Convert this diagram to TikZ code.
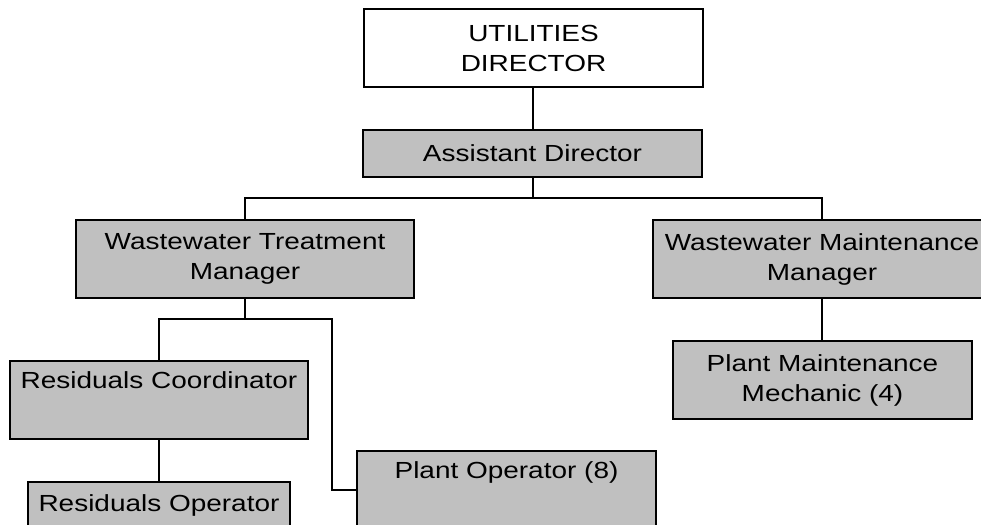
\documentclass[tikz,border=0pt]{standalone}
\usepackage{fontspec}
\setmainfont{Liberation Sans}[FakeStretch=1.2]
\definecolor{boxgray}{RGB}{192,192,192}
\tikzset{
  orgbox/.style={draw=black, line width=1.5pt, fill=boxgray, inner sep=0pt,
    align=center, font=\fontsize{23.3}{30}\selectfont},
  topbox/.style={orgbox, fill=white},
  link/.style={draw=black, line width=1.5pt}
}
\begin{document}
\begin{tikzpicture}[x=1pt,y=-1pt]
\useasboundingbox (0,0) rectangle (981,524);
\fill[white] (0,0) rectangle (981,524);
\clip (0,0) rectangle (981,524);
\node[topbox, minimum width=339, minimum height=78] (UD) at (533.5,48) {UTILITIES\\DIRECTOR};
\node[orgbox, minimum width=339, minimum height=47] (AD) at (532.5,153.5) {Assistant Director};
\node[orgbox, minimum width=338, minimum height=78] (WTM) at (245,259) {Wastewater Treatment\\Manager};
\node[orgbox, minimum width=338, minimum height=78] (WMM) at (822,259) {Wastewater Maintenance\\Manager};
\node[orgbox, minimum width=298, minimum height=78] (RC) at (159,400) {Residuals Coordinator\\ \strut};
\node[orgbox, minimum width=299, minimum height=78] (PMM) at (822.5,380) {Plant Maintenance\\Mechanic (4)};
\node[orgbox, minimum width=262, minimum height=47] (RO) at (159,505.5) {Residuals Operator};
\node[orgbox, minimum width=299, minimum height=78] (PO) at (506.5,490) {Plant Operator (8)\\ \strut};
\coordinate (j1) at (533,198);
\coordinate (j3) at (332,319);
\draw[link] (UD.south -| j1) -- (AD.north -| j1);
\draw[link] (AD.south -| j1) -- (j1);
\draw[link] (WTM.north) |- (j1) -| (WMM.north);
\draw[link] (WTM.south) -- (WTM.south |- j3);
\draw[link] (RC.north) |- (j3) |- (PO.west);
\draw[link] (RC.south) -- (RO.north);
\draw[link] (WMM.south) -- (WMM.south |- PMM.north);
\end{tikzpicture}
\end{document}
